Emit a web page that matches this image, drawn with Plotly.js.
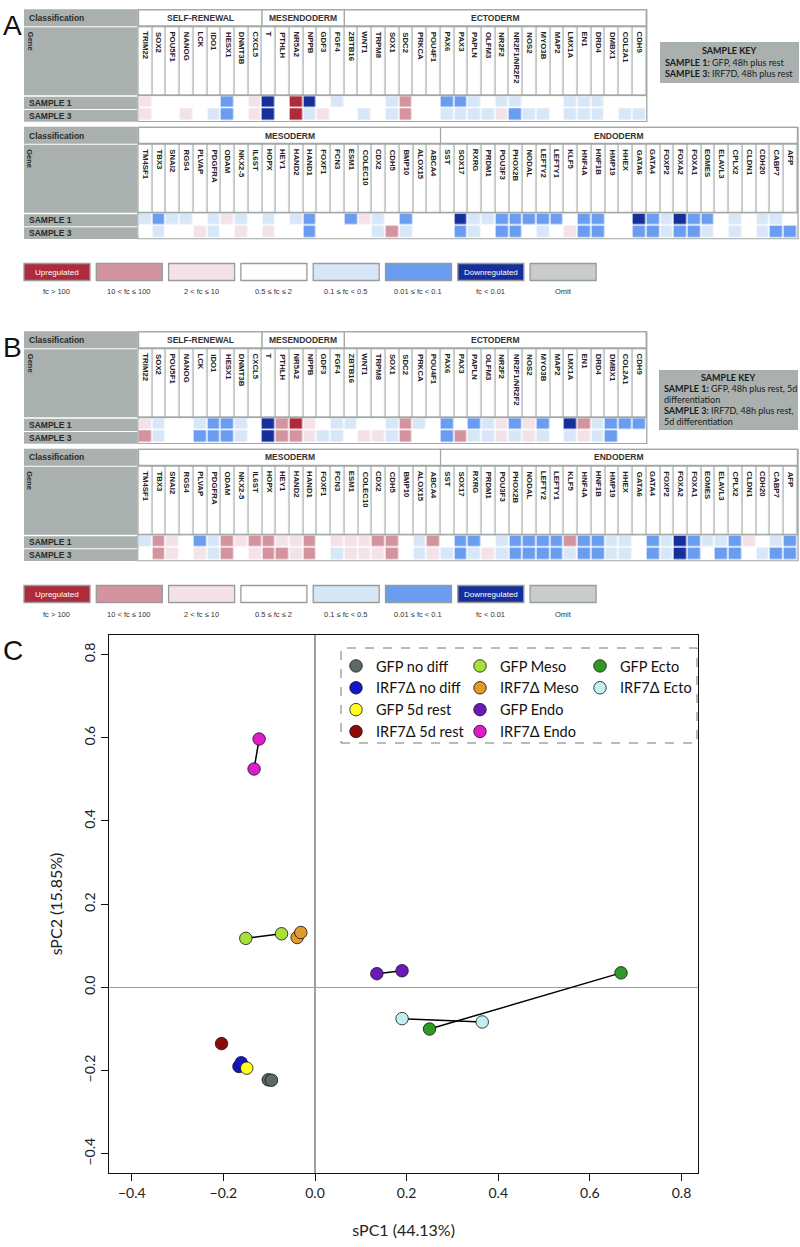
<!DOCTYPE html>
<html><head><meta charset="utf-8">
<script src="https://cdn.plot.ly/plotly-3.0.1.min.js"></script>
<style>html,body{margin:0;padding:0;background:#fff}#chart{width:800px;height:1247px}</style>
</head><body><div id="chart"></div>
<script>
const W = 800, H = 1247;

// ---------------- Heatmap data ----------------
const topGenes = ['TRIM22','SOX2','POU5F1','NANOG','LCK','IDO1','HESX1','DNMT3B','CXCL5',
  'T','PTHLH','NR5A2','NPPB','GDF3','FGF4',
  'ZBTB16','WNT1','TRPM8','SOX1','SDC2','PRKCA','POU4F1','PAX6','PAX3','PAPLN','OLFM3','NR2F2','NR2F1/NR2F2','NOS2','MYO3B','MAP2','LMX1A','EN1','DRD4','DMBX1','COL2A1','CDH9'];
const topGroups = ['SELF-RENEWAL','MESENDODERM','ECTODERM'];
const topGroupSizes = [9, 6, 22];

const bottomGenes = ['TM4SF1','TBX3','SNAI2','RGS4','PLVAP','PDGFRA','ODAM','NKX2-5','IL6ST','HOPX','HEY1','HAND2','HAND1','FOXF1','FCN3','ESM1','COLEC10','CDX2','CDH5','BMP10','ALOX15','ABCA4',
  'SST','SOX17','RXRG','PRDM1','POU3F3','PHOX2B','NODAL','LEFTY2','LEFTY1','KLF5','HNF4A','HNF1B','HMP19','HHEX','GATA6','GATA4','FOXP2','FOXA2','FOXA1','EOMES','ELAVL3','CPLX2','CLDN1','CDH20','CABP7','AFP'];
const bottomGroups = ['MESODERM','ENDODERM'];
const bottomGroupSizes = [22, 26];

const sampleLabels = ['SAMPLE 1', 'SAMPLE 3'];

// level codes: 0 fc>100, 1 10<fc<=100, 2 2<fc<=10, 3 0.5-2, 4 0.1-0.5, 5 0.01-0.1, 6 <0.01, 7 omit
const aTopS1 = [2,3,3,3,3,3,5,3,2, 6,3,0,6,3,4, 3,3,3,4,1,3,3,5,5,4,3,4,4,3,3,3,4,4,4,3,3,3];
const aTopS3 = [2,3,3,2,3,4,5,3,2, 6,3,0,4,2,3, 3,4,3,4,1,3,3,4,4,4,4,2,5,4,4,3,4,4,4,3,4,4];
const aBotS1 = [4,5,4,4,3,4,2,4,3,4,3,4,5,3,3,5,2,4,3,5,3,3,
  3,6,4,4,5,5,5,5,5,3,5,5,3,3,6,5,4,6,5,5,3,4,3,4,4,3];
const aBotS3 = [3,4,3,3,2,4,3,2,3,2,3,3,5,3,3,3,3,4,1,4,3,3,
  3,5,4,3,5,5,3,4,3,2,5,5,3,3,5,5,4,5,5,4,3,4,3,4,5,5];
const bTopS1 = [2,4,3,3,4,5,5,4,3, 6,1,0,2,3,4, 4,3,3,4,1,4,3,5,3,5,4,2,5,2,5,3,6,1,4,5,5,5];
const bTopS3 = [1,4,3,3,5,5,5,4,3, 6,1,1,2,4,4, 3,2,2,4,1,3,3,5,1,4,4,2,4,2,4,3,4,2,4,5,3,3];
const bBotS1 = [4,1,2,3,5,4,1,2,1,1,2,2,1,3,2,2,2,1,1,3,4,1,
  3,5,5,3,4,5,5,5,5,1,5,5,4,4,3,5,4,6,5,4,4,5,2,3,4,5];
const bBotS3 = [3,1,2,3,2,4,1,3,2,1,1,2,1,3,4,2,2,2,1,3,4,2,
  4,5,4,2,4,5,5,5,5,4,5,5,4,4,3,5,4,6,5,3,5,5,3,4,5,5];

const levelColors = ['#ad2b3b','#d3949f','#f4e2e9','#ffffff','#d8e7f8','#6a9cf0','#172f9a','#c8cccb'];
const levelLabels = ['fc > 100','10 < fc \u2264 100','2 < fc \u2264 10','0.5 \u2264 fc \u2264 2','0.1 \u2264 fc < 0.5','0.01 \u2264 fc < 0.1','fc < 0.01','Omit'];
const levelBoxText = ['Upregulated','','','','','','Downregulated',''];

const keyA = ['<b>SAMPLE KEY</b>','<b>SAMPLE 1:</b> GFP, 48h plus rest','<b>SAMPLE 3:</b> IRF7D, 48h plus rest'];
const keyB = ['<b>SAMPLE KEY</b>','<b>SAMPLE 1:</b> GFP, 48h plus rest, 5d','differentiation','<b>SAMPLE 3:</b> IRF7D, 48h plus rest,','5d differentiation'];

// ---------------- PCA data ----------------
const pcaNames = ['GFP no diff','IRF7\u0394 no diff','GFP 5d rest','IRF7\u0394 5d rest','GFP Meso','IRF7\u0394 Meso','GFP Endo','IRF7\u0394 Endo','GFP Ecto','IRF7\u0394 Ecto'];
const pcaColors = ['#5d6969','#1515c8','#ffff1a','#8c0a0a','#a6e03a','#e39a2a','#6b1ab8','#de1ccb','#2f9a24','#c2f0f0'];
const pcaX = [[-0.102,-0.095],[-0.166,-0.161],[-0.149],[-0.204],[-0.151,-0.073],[-0.039,-0.031],[0.135,0.19],[-0.122,-0.133],[0.668,0.25],[0.19,0.365]];
const pcaY = [[-0.222,-0.223],[-0.19,-0.181],[-0.194],[-0.135],[0.118,0.129],[0.12,0.132],[0.033,0.04],[0.597,0.525],[0.035,-0.10],[-0.075,-0.083]];
const pcaConnect = [false,false,false,false,true,false,true,true,true,true];
const pcaLegendCol = [1,1,1,1,2,2,2,2,3,3];

// ---------------- helpers ----------------
const px = v => v / W;
const py = v => 1 - v / H;
const heatFont = 'Liberation Sans, Arial, sans-serif';
const keyFont = 'Lato, Open Sans, sans-serif';
const labelGray = '#a9b0ae';
const borderGray = '#a2a8a6';

const data = [];
const shapes = [];
const annotations = [];
const layout = {
  width: W, height: H, margin: {l:0, r:0, t:0, b:0},
  paper_bgcolor: '#ffffff', plot_bgcolor: 'rgba(0,0,0,0)',
  showlegend: true, shapes, annotations
};

// discrete colorscale
const cs = [];
levelColors.forEach((c, i) => { cs.push([i / 8, c]); cs.push([(i + 1) / 8, c]); });

const blocks = [
  {xa:'x',  ya:'y',  yh:'y2', top:9.3,   genes:topGenes,    groups:topGroups,    sizes:topGroupSizes,    s1:aTopS1, s3:aTopS3},
  {xa:'x2', ya:'y3', yh:'y4', top:126.7, genes:bottomGenes, groups:bottomGroups, sizes:bottomGroupSizes, s1:aBotS1, s3:aBotS3},
  {xa:'x3', ya:'y5', yh:'y6', top:331.3, genes:topGenes,    groups:topGroups,    sizes:topGroupSizes,    s1:bTopS1, s3:bTopS3},
  {xa:'x4', ya:'y7', yh:'y8', top:448.7, genes:bottomGenes, groups:bottomGroups, sizes:bottomGroupSizes, s1:bBotS1, s3:bBotS3}
];
const axKey = (a) => (a[0] === 'x' ? 'xaxis' : 'yaxis') + a.slice(1);
const cellW = 13.75, left = 138;

blocks.forEach(b => {
  const t = b.top;
  const right = left + b.genes.length * cellW;
  [[t, t + 17], [t + 18, t + 86], [t + 87.5, t + 99.6], [t + 100.6, t + 112.4]].forEach(r => {
    shapes.push({type:'rect', xref:'paper', yref:'paper', x0:px(24), x1:px(137.3), y0:py(r[1]), y1:py(r[0]),
      fillcolor: labelGray, line:{width:0}, layer:'below'});
  });
  shapes.push({type:'rect', xref:'paper', yref:'paper', x0:px(137.3), x1:px(right + 0.7), y0:py(t + 112.6), y1:py(t),
    fillcolor: borderGray, line:{width:0}, layer:'below'});
  shapes.push({type:'rect', xref:'paper', yref:'paper', x0:px(138.6), x1:px(right - 0.6), y0:py(t + 111.6), y1:py(t + 86.9),
    fillcolor: '#ffffff', line:{width:0}, layer:'below'});
  let start = 0;
  b.groups.forEach((g, gi) => {
    const n = b.sizes[gi];
    shapes.push({type:'rect', xref:b.xa, yref:'paper', x0:start - 0.5, x1:start + n - 0.5, y0:py(t + 16.6), y1:py(t + 0.6),
      fillcolor:'#ffffff', line:{color:borderGray, width:1.2}, layer:'below'});
    annotations.push({xref:b.xa, yref:'paper', x:start + n / 2 - 0.5, y:py(t + 8.8), text:'<b>' + g + '</b>',
      showarrow:false, font:{family:heatFont, size:8.5, color:'#333'}, xanchor:'center', yanchor:'middle'});
    start += n;
  });
  annotations.push({xref:'paper', yref:'paper', x:px(27), y:py(t + 8.8), text:'<b>Classification</b>', showarrow:false,
    font:{family:heatFont, size:8.5, color:'#2b2b2b'}, xanchor:'left', yanchor:'middle'});
  annotations.push({xref:'paper', yref:'paper', x:px(30), y:py(t + 20), text:'<b>Gene</b>', showarrow:false, textangle:90,
    font:{family:heatFont, size:7.5, color:'#2b2b2b'}, xanchor:'center', yanchor:'top'});
  sampleLabels.forEach((s, si) => {
    annotations.push({xref:'paper', yref:'paper', x:px(27), y:py(t + 93.5 + si * 12.8), text:'<b>' + s + '</b>', showarrow:false,
      font:{family:heatFont, size:8.5, color:'#2b2b2b'}, xanchor:'left', yanchor:'middle'});
  });
  b.genes.forEach(g => {
    annotations.push({xref:b.xa, yref:'paper', x:g, y:py(t + 20.5), text:'<b>' + g + '</b>', showarrow:false, textangle:90,
      font:{family:heatFont, size:7.8, color:'#222'}, xanchor:'center', yanchor:'top'});
  });
  data.push({type:'heatmap', x:b.genes, y:['Gene'], z:[b.genes.map(() => 0)], xaxis:b.xa, yaxis:b.yh,
    colorscale:[[0,'#ffffff'],[1,'#ffffff']], showscale:false, xgap:1.2, ygap:2, hoverinfo:'skip'});
  data.push({type:'heatmap', x:b.genes, y:sampleLabels, z:[b.s1, b.s3], xaxis:b.xa, yaxis:b.ya,
    colorscale:cs, zmin:-0.5, zmax:7.5, showscale:false, xgap:1.5, ygap:1.5});
  const dom = [px(left), px(right)];
  layout[axKey(b.xa)] = {domain:dom, anchor:b.ya, type:'category', showticklabels:false, showgrid:false, zeroline:false,
    showline:false, ticks:'', fixedrange:true};
  layout[axKey(b.ya)] = {domain:[py(t + 111.8), py(t + 86.9)], anchor:b.xa, type:'category', autorange:'reversed',
    showticklabels:false, showgrid:false, zeroline:false, showline:false, ticks:'', fixedrange:true};
  layout[axKey(b.yh)] = {domain:[py(t + 86.3), py(t + 17)], anchor:b.xa, type:'category',
    showticklabels:false, showgrid:false, zeroline:false, showline:false, ticks:'', fixedrange:true};
});

[['A', 8], ['B', 330], ['C', 633]].forEach(p => {
  annotations.push({xref:'paper', yref:'paper', x:px(1), y:py(p[1]), text:p[0], showarrow:false,
    font:{family:'Liberation Sans, Arial, sans-serif', size:28, color:'#111'}, xanchor:'left', yanchor:'top'});
});

[263.5, 585.5].forEach(yTop => {
  levelColors.forEach((c, i) => {
    const x0 = 24 + 72.3 * i;
    shapes.push({type:'rect', xref:'paper', yref:'paper', x0:px(x0), x1:px(x0 + 66), y0:py(yTop + 17), y1:py(yTop),
      fillcolor:c, line:{color:'#9a9a9a', width:1.3}});
    if (levelBoxText[i]) {
      annotations.push({xref:'paper', yref:'paper', x:px(x0 + 33), y:py(yTop + 8.5), text:levelBoxText[i], showarrow:false,
        font:{family:heatFont, size:8, color:'#ffffff'}, xanchor:'center', yanchor:'middle'});
    }
    annotations.push({xref:'paper', yref:'paper', x:px(x0 + 33), y:py(yTop + 28.5), text:levelLabels[i], showarrow:false,
      font:{family:heatFont, size:7.5, color:'#333333'}, xanchor:'center', yanchor:'middle'});
  });
});

function sampleKey(lines, x0, x1, y0, y1, firstY, step) {
  shapes.push({type:'rect', xref:'paper', yref:'paper', x0:px(x0), x1:px(x1), y0:py(y1), y1:py(y0),
    fillcolor:labelGray, line:{width:0}, layer:'below'});
  lines.forEach((l, i) => {
    annotations.push({xref:'paper', yref:'paper', x: i === 0 ? px((x0 + x1) / 2) : px(x0 + 3), y:py(firstY + i * step), text:l,
      showarrow:false, font:{family:keyFont, size:9, color:'#1a1a1a'}, xanchor: i === 0 ? 'center' : 'left', yanchor:'middle'});
  });
}
sampleKey(keyA, 660, 799, 42, 83, 51, 11.3);
sampleKey(keyB, 659, 798, 370, 430, 377.5, 11.1);

// ---------------- Panel C ----------------
pcaNames.forEach((n, i) => {
  if (pcaConnect[i]) {
    data.push({type:'scatter', mode:'lines', x:pcaX[i], y:pcaY[i], xaxis:'x5', yaxis:'y9',
      line:{color:'#000', width:1.5}, showlegend:false, hoverinfo:'skip'});
  }
});
pcaNames.forEach((n, i) => {
  data.push({type:'scatter', mode:'markers', name:n, x:pcaX[i], y:pcaY[i], xaxis:'x5', yaxis:'y9',
    marker:{color:pcaColors[i], size:12.5, line:{color:'#111', width:0.8}},
    legend: pcaLegendCol[i] === 1 ? 'legend' : 'legend' + pcaLegendCol[i]});
});
const legBase = {orientation:'v', yanchor:'top', xanchor:'left', bgcolor:'rgba(0,0,0,0)', borderwidth:0,
  font:{family:keyFont, size:14.5, color:'#111'}, tracegroupgap:0, itemwidth:30};
layout.legend  = Object.assign({}, legBase, {x:px(336), y:py(650)});
layout.legend2 = Object.assign({}, legBase, {x:px(460), y:py(650)});
layout.legend3 = Object.assign({}, legBase, {x:px(580), y:py(650)});
shapes.push({type:'rect', xref:'paper', yref:'paper', x0:px(341), x1:px(697), y0:py(743), y1:py(648),
  fillcolor:'rgba(0,0,0,0)', line:{color:'#777', width:1, dash:'dash'}});

layout.xaxis5 = {domain:[px(109.3), px(698)], anchor:'y9', range:[-0.449, 0.836], tickvals:[-0.4,-0.2,0,0.2,0.4,0.6,0.8],
  tickformat:'.1f', showline:true, mirror:true, linecolor:'#111', linewidth:1.3, ticks:'outside', ticklen:7, tickcolor:'#111',
  showgrid:false, zeroline:true, zerolinecolor:'#a0a0a0', zerolinewidth:1.6,
  tickfont:{family:keyFont, size:14, color:'#222'},
  title:{text:'sPC1 (44.13%)', font:{family:keyFont, size:16, color:'#222'}, standoff:24}, automargin:false, fixedrange:true};
layout.yaxis9 = {domain:[py(1173), py(635)], anchor:'x5', range:[-0.446, 0.847], tickvals:[-0.4,-0.2,0,0.2,0.4,0.6,0.8],
  tickformat:'.1f', tickangle:-90, showline:true, mirror:true, linecolor:'#111', linewidth:1.3, ticks:'outside', ticklen:7, tickcolor:'#111',
  showgrid:false, zeroline:true, zerolinecolor:'#a0a0a0', zerolinewidth:1.6,
  tickfont:{family:keyFont, size:14, color:'#222'},
  title:{text:'sPC2 (15.85%)', font:{family:keyFont, size:16, color:'#222'}, standoff:14}, fixedrange:true};

Plotly.newPlot('chart', data, layout, {staticPlot:true, displayModeBar:false});
</script>
</body></html>
